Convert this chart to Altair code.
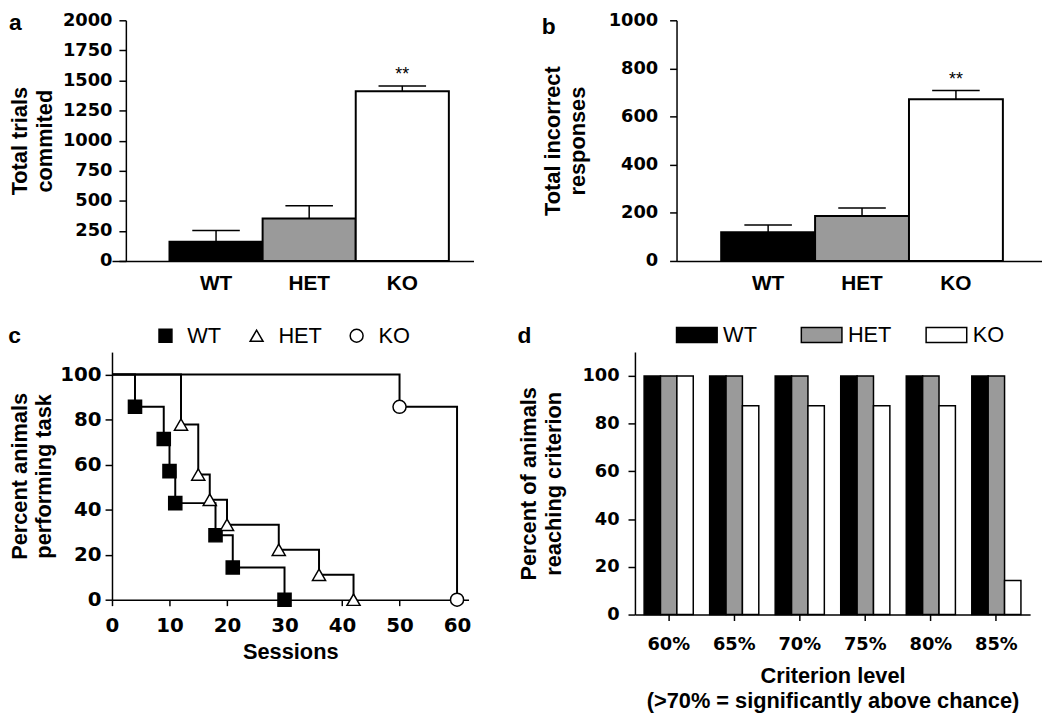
import altair as alt
import pandas as pd

# ---------------- data ----------------
genotypes = ["WT", "HET", "KO"]
genotype_fills = ["#000000", "#9a9a9a", "#ffffff"]
marker_fills = ["#000000", "#ffffff", "#ffffff"]
marker_strokes = ["#000000", "#000000", "#000000"]
marker_shapes = ["square", "triangle-up", "circle"]

# panel a
trials_mean = [160, 352, 1410]
trials_sem = [93, 106, 45]
trials_ticks = [0, 250, 500, 750, 1000, 1250, 1500, 1750, 2000]

# panel b
incorrect_mean = [119, 187, 672]
incorrect_sem = [30, 33, 36]
incorrect_ticks = [0, 200, 400, 600, 800, 1000]

significance = ["", "", "**"]

# panel c
wt_sessions = [0, 4, 9, 10, 11, 18, 21, 30]
wt_percent = [100, 85.7, 71.4, 57.1, 42.9, 28.6, 14.3, 0]
het_sessions = [0, 12, 15, 17, 20, 29, 36, 42]
het_percent = [100, 77.8, 55.6, 44.4, 33.3, 22.2, 11.1, 0]
ko_sessions = [0, 50, 60]
ko_percent = [100, 85.7, 0]
session_ticks = [0, 10, 20, 30, 40, 50, 60]
percent_ticks = [0, 20, 40, 60, 80, 100]

# panel d
criterion_levels = ["60%", "65%", "70%", "75%", "80%", "85%"]
wt_reaching = [100, 100, 100, 100, 100, 100]
het_reaching = [100, 100, 100, 100, 100, 100]
ko_reaching = [100, 87.5, 87.5, 87.5, 87.5, 14.3]

TXT = "Liberation Sans"
NUM = "DejaVu Sans"


def letter(t, dy):
    return alt.TitleParams(text=t, anchor="start", frame="bounds", font=TXT, fontSize=23,
                           fontWeight="bold", color="black", baseline="alphabetic",
                           offset=-10, dy=dy)


def yaxis(title, values, label_size, label_pad, title_pad, offset=0):
    return alt.Axis(title=title, values=values, format="d", grid=False, domainColor="black",
                    domainWidth=1.5, tickColor="black", tickWidth=1.5, tickSize=7,
                    labelFont=NUM, labelFontWeight="bold", labelFontSize=label_size,
                    labelColor="black", labelPadding=label_pad, labelFlush=False,
                    titleFont=TXT, titleFontWeight="bold", titleFontSize=22,
                    titleColor="black", titleLineHeight=25, titlePadding=title_pad,
                    offset=offset)


def bar_panel(means, sems, ticks, ytitle, width, height, pad_outer, align, t, t_dy,
              label_pad, title_pad, axis_offset):
    df = pd.DataFrame({
        "genotype": genotypes,
        "mean": means,
        "upper": [m + s for m, s in zip(means, sems)],
        "sig": significance,
    })
    x = alt.X("genotype:N", sort=genotypes,
              scale=alt.Scale(paddingInner=0, paddingOuter=pad_outer, align=align),
              axis=alt.Axis(title=None, labelAngle=0, ticks=False, tickSize=0,
                            domainColor="black", domainWidth=1.5, labelFont=TXT,
                            labelFontWeight="bold", labelFontSize=21, labelColor="black",
                            labelPadding=12))
    ys = alt.Scale(domain=[ticks[0], ticks[-1]], nice=False)
    ya = yaxis(ytitle, ticks, 18, label_pad, title_pad, axis_offset)
    base = alt.Chart(df)
    bars = base.mark_bar(stroke="black", strokeWidth=2, opacity=1).encode(
        x=x, y=alt.Y("mean:Q", scale=ys, axis=ya),
        fill=alt.Fill("genotype:N", scale=alt.Scale(domain=genotypes, range=genotype_fills),
                      legend=None))
    whisk = base.mark_rule(color="black", strokeWidth=1.5, opacity=1).encode(
        x=x, y=alt.Y("mean:Q", scale=ys, axis=ya), y2="upper:Q")
    cap = base.mark_tick(color="black", thickness=1.5, size=48, opacity=1).encode(
        x=x, y=alt.Y("upper:Q", scale=ys, axis=ya))
    star = base.mark_text(font=TXT, fontSize=18, color="black", baseline="alphabetic",
                          dy=-6).encode(
        x=x, y=alt.Y("upper:Q", scale=ys, axis=ya), text="sig:N")
    return alt.layer(bars, whisk, cap, star).properties(
        width=width, height=height, title=letter(t, t_dy))


chart_a = bar_panel(trials_mean, trials_sem, trials_ticks, ["Total trials", "commited"],
                    365, 243, 0.441, 0.70, "a", 32, 7, 6, -14)
chart_b = bar_panel(incorrect_mean, incorrect_sem, incorrect_ticks,
                    ["Total incorrect", "responses"], 369, 243, 0.446, 0.533, "b", 36,
                    12, 19, 0)

# ---------------- panel c ----------------
rows = []
for g, xs, ys in zip(genotypes, [wt_sessions, het_sessions, ko_sessions],
                     [wt_percent, het_percent, ko_percent]):
    for i, (s, p) in enumerate(zip(xs, ys)):
        rows.append({"genotype": g, "session": s, "percent": p, "step": i, "marker": i > 0})
dfc = pd.DataFrame(rows)

xc = alt.X("session:Q", scale=alt.Scale(domain=[0, 62], nice=False),
           axis=alt.Axis(title="Sessions", values=session_ticks, format="d", grid=False,
                         domainColor="black", domainWidth=1.5, tickColor="black",
                         tickWidth=1.5, tickSize=6, labelFont=NUM, labelFontWeight="bold",
                         labelFontSize=20, labelColor="black", labelPadding=10,
                         labelFlush=False, titleFont=TXT, titleFontWeight="bold",
                         titleFontSize=22, titleColor="black", titlePadding=6))
yc = alt.Y("percent:Q", scale=alt.Scale(domain=[0, 110], nice=False),
           axis=yaxis(["Percent animals", "performing task"], percent_ticks, 20, 4, 4))

legend_c = alt.Legend(title=None, orient="none", legendX=33.5, legendY=-37,
                      direction="horizontal", gridAlign="none", labelFont=TXT,
                      labelFontSize=22, labelColor="black", symbolSize=170,
                      symbolStrokeColor="black", symbolStrokeWidth=1.5, labelOffset=11,
                      columnPadding=24, padding=9.5)

lines = alt.Chart(dfc).mark_line(interpolate="step-after", color="black", strokeWidth=2).encode(
    x=xc, y=yc, detail="genotype:N", order="step:Q")
points = alt.Chart(dfc).transform_filter(alt.datum.marker).mark_point(
    filled=True, strokeWidth=1.5, opacity=1, size=175).encode(
    x=xc, y=yc,
    shape=alt.Shape("genotype:N", sort=genotypes,
                    scale=alt.Scale(domain=genotypes, range=marker_shapes), legend=legend_c),
    fill=alt.Fill("genotype:N", sort=genotypes,
                  scale=alt.Scale(domain=genotypes, range=marker_fills), legend=legend_c),
    stroke=alt.Stroke("genotype:N", sort=genotypes,
                      scale=alt.Scale(domain=genotypes, range=marker_strokes),
                      legend=legend_c))
chart_c = alt.layer(lines, points).properties(width=360, height=250, title=letter("c", 41))

# ---------------- panel d ----------------
drows = []
for g, vals in zip(genotypes, [wt_reaching, het_reaching, ko_reaching]):
    for c, v in zip(criterion_levels, vals):
        drows.append({"criterion": c, "group": g, "reached": v})
dfd = pd.DataFrame(drows)

legend_d = alt.Legend(title=None, orient="none", legendX=41, legendY=-39,
                      direction="horizontal", gridAlign="all", labelFont=TXT,
                      labelFontSize=22, labelColor="black",
                      symbolType="M-1,-0.366H1V0.366H-1Z", symbolSize=1681,
                      symbolStrokeColor="black", symbolStrokeWidth=1.5, labelOffset=5,
                      columnPadding=32, padding=0)

chart_d = alt.Chart(dfd).mark_bar(stroke="black", strokeWidth=1.5, opacity=1).encode(
    x=alt.X("criterion:N", sort=criterion_levels,
            scale=alt.Scale(paddingInner=0.25, paddingOuter=0.14),
            axis=alt.Axis(title=["Criterion level", "(>70% = significantly above chance)"],
                          labelAngle=0, domainColor="black", domainWidth=1.5, tickColor="black",
                          tickWidth=1.5, tickSize=6, labelFont=NUM, labelFontWeight="bold",
                          labelFontSize=18, labelColor="black", labelPadding=15, titleFont=TXT,
                          titleFontWeight="bold", titleFontSize=22, titleColor="black",
                          titleLineHeight=25, titlePadding=13)),
    xOffset=alt.XOffset("group:N", sort=genotypes,
                        scale=alt.Scale(domain=genotypes, paddingInner=0, paddingOuter=0)),
    y=alt.Y("reached:Q", scale=alt.Scale(domain=[0, 110], nice=False),
            axis=yaxis(["Percent of animals", "reaching criterion"], percent_ticks, 18, 9, 17)),
    fill=alt.Fill("group:N", scale=alt.Scale(domain=genotypes, range=genotype_fills),
                  legend=legend_d),
).properties(width=399, height=265, title=letter("d", 43))

top = alt.hconcat(chart_a, chart_b, spacing=68).resolve_scale(fill="independent")
bottom = alt.hconcat(chart_c, chart_d, spacing=46).resolve_scale(
    fill="independent", shape="independent", stroke="independent")

chart = alt.vconcat(top, bottom, spacing=20).resolve_scale(
    fill="independent", shape="independent", stroke="independent").properties(
    padding=0, background="white").configure_view(stroke=None)

chart.save("out.html", embed_options={"renderer": "svg", "actions": False})
